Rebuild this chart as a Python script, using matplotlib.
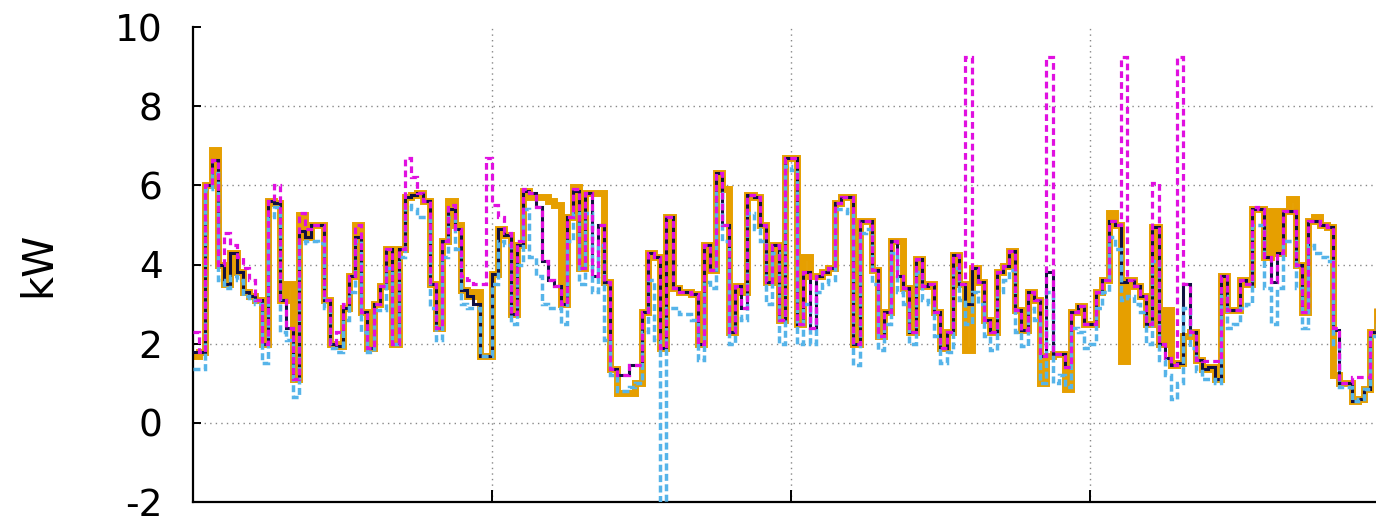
import numpy as np
import matplotlib
matplotlib.use("Agg")
import matplotlib.pyplot as plt

plt.rcParams["axes.unicode_minus"] = False

# half-hour power readings (kW), four days
STEP_H = 0.5

measured = [
    1.8, 1.8, 6.0, 6.65, 4.0, 3.5, 4.3, 3.8, 3.3, 3.2,
    3.1, 2.0, 5.6, 5.55, 3.1, 2.4, 1.1, 4.85, 4.7, 5.0,
    5.0, 3.1, 2.0, 1.95, 2.9, 3.7, 4.7, 2.8, 1.9, 3.0,
    3.45, 4.4, 2.0, 4.4, 5.7, 5.75, 5.8, 5.6, 3.5, 2.4,
    4.6, 5.4, 4.9, 3.35, 3.2, 3.0, 1.7, 1.7, 3.75, 4.9,
    4.75, 2.75, 4.5, 5.85, 5.8, 5.45, 4.1, 3.6, 3.45, 3.0,
    5.2, 5.85, 3.9, 5.8, 3.7, 5.0, 3.55, 1.35, 1.2, 1.2,
    1.45, 1.45, 2.8, 4.3, 4.2, 1.9, 5.2, 3.4, 3.3, 3.3,
    3.25, 2.0, 4.5, 3.85, 6.3, 5.0, 2.3, 3.45, 2.9, 5.75,
    5.7, 5.0, 3.55, 4.5, 2.6, 6.7, 6.7, 2.5, 3.8, 2.4,
    3.7, 3.8, 3.9, 5.55, 5.7, 5.7, 2.0, 5.1, 5.1, 3.85,
    2.2, 2.8, 4.6, 3.7, 3.4, 2.3, 4.15, 3.45, 3.5, 2.8,
    1.9, 2.3, 4.25, 3.5, 3.0, 3.9, 3.55, 2.6, 2.3, 3.8,
    3.95, 4.35, 2.85, 2.35, 3.3, 3.1, 1.7, 3.8, 1.75, 1.75,
    1.4, 2.8, 2.95, 2.5, 2.5, 3.3, 3.6, 5.1, 5.0, 3.55,
    3.6, 3.45, 3.2, 2.5, 4.95, 2.0, 1.65, 1.45, 1.5, 3.5,
    2.3, 1.6, 1.35, 1.4, 1.1, 3.7, 2.85, 2.85, 3.6, 3.5,
    5.4, 5.4, 4.2, 3.55, 4.3, 5.35, 5.35, 4.0, 2.8, 5.1,
    5.1, 5.0, 4.95, 2.35, 1.0, 1.0, 0.55, 0.6, 0.85, 2.3,
    2.9,
]

actual = [
    1.7, 1.8, 6.0, 6.9, 4.0, 3.5, 4.3, 3.8, 3.3, 3.2,
    3.1, 2.0, 5.6, 5.55, 3.1, 3.5, 1.1, 5.25, 4.7, 5.0,
    5.0, 3.1, 2.0, 1.95, 2.9, 3.7, 5.0, 2.8, 1.9, 3.0,
    3.45, 4.4, 2.0, 4.4, 5.7, 5.75, 5.8, 5.6, 3.5, 2.4,
    4.6, 5.6, 5.0, 3.35, 3.2, 3.3, 1.7, 1.7, 3.75, 4.9,
    4.75, 2.75, 4.5, 5.85, 5.7, 5.7, 5.7, 5.6, 5.5, 3.0,
    5.2, 5.95, 3.9, 5.8, 5.8, 5.8, 3.55, 1.35, 0.75, 0.75,
    0.75, 1.0, 2.8, 4.3, 4.2, 1.9, 5.2, 3.4, 3.3, 3.3,
    3.25, 2.0, 4.5, 3.85, 6.3, 5.9, 2.3, 3.45, 3.3, 5.75,
    5.7, 5.0, 3.55, 4.5, 2.6, 6.7, 6.7, 2.5, 4.2, 3.7,
    3.7, 3.8, 3.9, 5.55, 5.7, 5.7, 2.0, 5.1, 5.1, 3.85,
    2.2, 2.8, 4.6, 4.6, 3.4, 2.3, 4.15, 3.45, 3.5, 2.8,
    1.9, 2.3, 4.25, 3.5, 1.85, 3.9, 3.55, 2.6, 2.3, 3.8,
    3.95, 4.35, 2.85, 2.35, 3.3, 3.1, 1.0, 1.7, 1.75, 1.75,
    0.85, 2.8, 2.95, 2.5, 2.5, 3.3, 3.6, 5.3, 5.0, 1.55,
    3.6, 3.45, 3.2, 2.5, 4.95, 2.0, 2.85, 1.45, 1.5, 2.2,
    2.3, 1.6, 1.35, 1.4, 1.1, 3.7, 2.85, 2.85, 3.6, 3.5,
    5.4, 5.4, 4.2, 5.35, 4.3, 5.35, 5.65, 4.0, 2.8, 5.1,
    5.2, 5.0, 4.95, 1.2, 1.0, 1.0, 0.55, 0.6, 0.85, 2.3,
    2.9,
]

forecast_a = [
    2.3, 1.8, 6.0, 6.65, 4.0, 4.8, 4.5, 4.2, 3.9, 3.6,
    3.1, 2.0, 5.6, 6.0, 3.1, 2.4, 1.1, 5.3, 4.9, 5.0,
    5.0, 3.1, 2.0, 2.3, 3.0, 3.7, 5.0, 2.8, 1.9, 3.0,
    3.45, 4.4, 2.0, 4.4, 6.7, 6.2, 5.8, 5.6, 3.5, 2.4,
    4.6, 5.5, 4.9, 3.7, 3.6, 3.5, 3.5, 6.7, 5.5, 5.2,
    4.8, 2.75, 4.6, 5.9, 5.8, 5.45, 4.1, 3.6, 3.45, 3.0,
    5.2, 5.9, 3.9, 5.8, 3.7, 5.0, 3.55, 1.35, 1.2, 1.2,
    1.45, 1.45, 2.8, 4.3, 4.2, 1.9, 5.2, 3.4, 3.3, 3.3,
    3.25, 2.0, 4.5, 3.85, 6.3, 5.0, 2.3, 3.45, 2.9, 5.75,
    5.7, 5.0, 3.55, 4.5, 2.6, 6.7, 6.7, 2.5, 3.8, 2.4,
    3.7, 3.8, 3.9, 5.55, 5.7, 5.7, 2.0, 5.1, 5.1, 3.85,
    2.2, 2.8, 4.6, 3.7, 3.4, 2.3, 4.15, 3.45, 3.5, 2.8,
    1.9, 2.3, 4.25, 3.5, 9.25, 3.9, 3.55, 2.6, 2.3, 3.8,
    3.95, 4.35, 2.85, 2.35, 3.3, 3.1, 1.7, 9.25, 1.75, 1.75,
    1.4, 2.8, 2.95, 2.5, 2.5, 3.3, 3.6, 5.1, 5.0, 9.25,
    3.6, 3.45, 3.2, 2.5, 6.05, 2.0, 1.65, 1.45, 9.25, 3.5,
    2.3, 1.6, 1.55, 1.55, 1.55, 3.7, 2.85, 2.85, 3.6, 3.5,
    5.45, 5.4, 4.2, 3.55, 4.3, 5.35, 5.35, 4.0, 2.8, 5.1,
    5.1, 5.0, 4.95, 2.4, 1.0, 1.0, 1.15, 1.15, 1.15, 2.3,
    2.9,
]

forecast_b = [
    1.35, 1.35, 5.9, 6.3, 3.6, 3.4, 3.7, 3.6, 3.2, 3.1,
    3.0, 1.5, 5.2, 5.45, 2.3, 2.1, 0.65, 4.55, 4.6, 4.6,
    4.55, 2.9, 1.9, 1.8, 2.6, 3.3, 4.6, 2.3, 1.8, 2.85,
    2.85, 3.9, 2.0, 4.2, 5.5, 5.4, 5.2, 5.2, 2.9, 2.1,
    4.2, 5.2, 4.4, 3.0, 2.9, 2.9, 1.7, 1.7, 3.5, 4.6,
    4.5, 2.5, 4.0, 5.4, 4.2, 3.7, 3.0, 2.9, 2.9, 2.5,
    4.6, 5.3, 3.5, 5.3, 3.3, 4.5, 2.1, 1.2, 0.8, 0.8,
    0.9, 1.0, 2.3, 3.6, 2.1, -3.0, 2.9, 2.9, 2.75, 2.75,
    2.6, 1.6, 3.55, 3.4, 5.8, 4.6, 2.0, 2.7, 2.6, 5.3,
    4.9, 4.6, 3.0, 4.3, 2.0, 6.5, 6.4, 2.0, 3.0, 2.0,
    3.3, 3.5, 3.6, 5.4, 5.4, 5.3, 1.45, 4.8, 4.9, 3.5,
    1.85, 2.5, 4.3, 3.3, 3.0, 2.0, 3.8, 3.1, 3.0, 2.2,
    1.5, 1.8, 3.9, 3.1, 2.5, 3.3, 3.0, 2.2, 1.85, 3.3,
    3.6, 3.85, 2.3, 1.95, 2.9, 2.6, 1.0, 3.3, 1.0, 1.2,
    0.9, 2.4, 2.3, 1.9, 2.0, 2.9, 3.3, 4.7, 4.4, 3.1,
    3.2, 3.0, 2.8, 2.0, 4.1, 1.6, 1.2, 0.6, 1.0, 2.9,
    1.9, 1.3, 1.1, 1.1, 1.0, 3.2, 2.4, 2.5, 2.9, 3.0,
    5.0, 5.0, 3.4, 2.5, 3.4, 4.6, 4.6, 3.4, 2.4, 4.5,
    4.3, 4.2, 4.1, 2.0, 0.9, 0.9, 0.55, 0.6, 0.85, 2.2,
    2.6,
]

edges = np.arange(len(measured) + 1) * STEP_H

fig = plt.figure(figsize=(13.76, 5.21), dpi=100)
ax = fig.add_axes([193 / 1376, 19 / 521, 1196 / 1376, 475 / 521])

# dotted guide lines, no line along the top edge
for y in range(0, 10, 2):
    ax.axhline(y, color="#888888", lw=1.0, linestyle=(0, (1, 3)), zorder=1)
for x in (24, 48, 72):
    ax.axvline(x, color="#888888", lw=1.0, linestyle=(0, (1, 3)), zorder=1)

ax.stairs(actual, edges, baseline=None, color="#E69F00", lw=5.0, zorder=2)
ax.stairs(measured, edges, baseline=None, color="#101040", lw=2.2, zorder=3)
ax.stairs(forecast_b, edges, baseline=None, color="#56B4E9", lw=2.5,
          linestyle=(0, (2.0, 1.0)), zorder=4)
ax.stairs(forecast_a, edges, baseline=None, color="#E010E0", lw=2.3,
          linestyle=(0, (2.1, 1.3)), zorder=5)

ax.set_xlim(0, 96)
ax.set_ylim(-2, 10)
ax.set_yticks(np.arange(-2, 11, 2))
ax.set_xticks([0, 24, 48, 72, 96])
ax.set_xticklabels([])

for side in ("top", "right"):
    ax.spines[side].set_visible(False)
for side in ("left", "bottom"):
    ax.spines[side].set_linewidth(1.6)

ax.tick_params(axis="y", direction="in", length=6, width=1.4,
               labelsize=27, pad=22)
ax.tick_params(axis="x", direction="in", length=9, width=1.4)

ax.set_ylabel("kW", fontsize=30, labelpad=40)

fig.savefig("out.png", dpi=100)
